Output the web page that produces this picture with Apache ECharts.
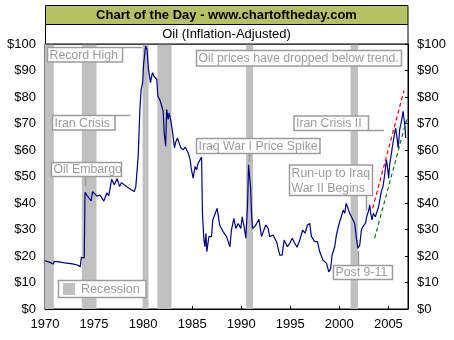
<!DOCTYPE html>
<html>
<head>
<meta charset="utf-8">
<script src="https://cdn.jsdelivr.net/npm/echarts@6/dist/echarts.min.js"></script>
<style>
html,body{margin:0;padding:0;background:#fff;}
#chart{width:454px;height:340px;}
</style>
</head>
<body>
<div id="chart"></div>
<script>
// ---- data ----
var years = [
  1970.0,1970.5,1970.85,1970.95,1971.3,1972.0,1972.8,1973.3,1973.6,1973.7,1973.85,1974.0,
  1974.08,1974.3,1974.5,1974.7,1974.85,1975.3,1975.6,1976.0,1976.3,1976.5,1976.8,1977.05,
  1977.36,1977.6,1977.8,1978.3,1978.8,1979.1,1979.25,1979.35,1979.5,1979.67,1979.8,1979.95,
  1980.05,1980.25,1980.4,1980.55,1980.75,1980.95,1981.1,1981.4,1981.5,1981.7,1981.9,1982.05,
  1982.15,1982.3,1982.4,1982.55,1982.65,1982.8,1982.97,1983.2,1983.3,1983.5,1983.7,1983.85,
  1984.1,1984.3,1984.6,1984.8,1984.9,1985.1,1985.3,1985.45,1985.6,1985.8,1985.96,1986.05,
  1986.2,1986.3,1986.4,1986.5,1986.7,1986.97,1987.1,1987.3,1987.55,1987.8,1988.15,1988.5,
  1988.85,1989.0,1989.25,1989.45,1989.7,1989.96,1990.1,1990.3,1990.47,1990.65,1990.75,1990.82,
  1990.95,1991.05,1991.15,1991.4,1991.55,1991.8,1992.07,1992.2,1992.5,1992.74,1992.9,1993.25,
  1993.6,1993.93,1994.17,1994.37,1994.54,1994.7,1994.95,1995.2,1995.46,1995.7,1995.97,1996.25,
  1996.5,1996.75,1996.98,1997.16,1997.5,1997.77,1998.0,1998.34,1998.7,1998.92,1999.12,1999.26,
  1999.53,1999.7,1999.94,2000.2,2000.4,2000.55,2000.7,2000.9,2001.06,2001.23,2001.4,2001.57,
  2001.74,2001.9,2002.08,2002.25,2002.4,2002.66,2002.83,2002.96,2003.1,2003.2,2003.33,2003.47,
  2003.67,2003.84,2004.0,2004.18,2004.28,2004.45,2004.6,2004.8,2004.9,2005.03,2005.13,2005.3,
  2005.47,2005.64,2005.74,2005.88,2006.0,2006.15,2006.3,2006.5,2006.6,2006.7,2006.76
];
var prices = [
  18.2,17.6,17.0,18.0,17.9,17.4,17.0,16.6,16.0,19.5,19.2,19.3,
  44.0,42.8,42.4,40.8,44.3,42.6,43.0,40.7,43.8,42.8,49.0,46.9,
  49.2,46.2,47.7,46.2,45.0,44.3,46.0,46.2,57.6,75.3,82.8,85.4,
  92.3,99.2,98.0,90.4,85.4,89.2,87.9,86.6,80.3,79.0,76.5,74.6,
  66.4,61.4,75.3,71.5,74.0,71.5,67.7,60.8,62.7,64.5,65.2,60.8,
  60.1,61.1,58.9,56.3,53.2,49.4,53.8,52.5,55.0,54.4,57.3,36.0,
  26.0,23.5,28.5,21.6,27.3,27.3,33.6,33.0,38.0,31.7,29.2,27.3,
  23.5,29.8,34.2,30.4,32.3,30.4,34.8,31.1,26.7,39.9,54.4,53.8,
  46.2,36.1,30.4,31.1,30.4,33.9,27.3,27.9,31.7,30.4,27.3,27.9,
  25.4,20.3,20.3,26.0,26.7,23.5,24.8,26.7,24.8,23.3,26.0,29.8,
  28.6,31.7,32.3,27.3,25.4,25.4,21.6,18.4,17.2,14.0,15.3,20.3,
  23.5,27.9,31.7,34.8,37.4,36.1,39.9,40.2,36.1,34.8,33.6,32.3,
  26.7,22.9,24.1,29.8,31.1,32.3,35.5,36.7,39.3,36.1,33.6,36.1,
  34.8,36.7,38.6,39.3,44.3,46.2,50.0,56.3,53.8,49.4,54.4,53.8,
  62.7,66.4,68.3,64.5,60.8,67.7,70.2,74.6,71.5,68.9,64.5
];
var recessions = [[1970.0,1970.9],[1973.75,1975.25],[1979.95,1980.55],[1981.45,1982.9],[1990.5,1991.2],[2001.15,2001.9]];
var trendRed = [[2003.4,38.0],[2006.6,82.5]];
var trendGreen = [[2003.6,26.7],[2006.9,72.0]];
var yTicks = [0,10,20,30,40,50,60,70,80,90,100];
var xTicks = [1970,1975,1980,1985,1990,1995,2000,2005];

var titleText = 'Chart of the Day - www.chartoftheday.com';
var subtitleText = 'Oil (Inflation-Adjusted)';
var legendText = 'Recession';

// ---- chart ----
var FONT = '"Liberation Sans", Arial, sans-serif';
var GRAY = '#9c9c9c';
var ANN_FONT = '12.3px ' + FONT;
var chart = echarts.init(document.getElementById('chart'), null, {renderer:'canvas'});

var oilData = years.map(function(y,i){ return [y, prices[i]]; });
var areaData = recessions.map(function(r){ return [{xAxis:r[0]},{xAxis:r[1]}]; });

function yAxisCfg(pos){
  return {
    type:'value', position:pos, min:yTicks[0], max:yTicks[yTicks.length-1], interval:10,
    axisLine:{show:true, lineStyle:{color:'#000', width:1}},
    axisTick:{show:true, inside:true, length:3, lineStyle:{color:'#000'}},
    splitLine:{show:false},
    axisLabel:{color:'#000', fontFamily:FONT, fontSize:13, margin:9,
      formatter:function(v){ return '$' + v; }}
  };
}

var ann = [
  // [left, top, width, height, lines, leader [x1,y1,x2,y2] or null]
  [47.5, 47.5, 75, 14.5, ['Record High'], [122.5,47.5,142,47.5]],
  [52.5, 115.5, 62.5, 14.5, ['Iran Crisis'], [115,115.5,130.5,115.5]],
  [51.5, 162.5, 70, 14, ['Oil Embargo'], [85.5,176.5,85.5,186]],
  [196.5, 50.5, 205, 15.5, ['Oil prices have dropped below trend.'], null],
  [196.5, 138.5, 123.5, 15, ['Iraq War I Price Spike'], [249.5,153.5,249.5,162]],
  [294, 116, 74.5, 14.5, ['Iran Crisis II'], [368.5,130.5,384,130.5]],
  [289.5, 165, 83, 30.5, ['Run-up to Iraq','War II Begins'], [366.5,195.5,366.5,210.5]],
  [333.5, 265.5, 59, 14, ['Post 9-11'], [358.5,251,358.5,265.5]]
];

var graphics = [
  {type:'rect', z:100, shape:{x:45.5, y:5.5, width:362.5, height:19}, style:{fill:'#b5c162', stroke:'#000', lineWidth:1}},
  {type:'text', z:101, x:226.5, y:15, style:{text:titleText, font:'bold 13px '+FONT, fill:'#000', align:'center', verticalAlign:'middle'}},
  {type:'rect', z:100, shape:{x:45.5, y:24.5, width:362.5, height:19.5}, style:{fill:'#fff', stroke:'#000', lineWidth:1}},
  {type:'text', z:101, x:226.5, y:34.5, style:{text:subtitleText, font:'13px '+FONT, fill:'#000', align:'center', verticalAlign:'middle'}}
];
ann.forEach(function(a){
  graphics.push({type:'rect', z:100, shape:{x:a[0], y:a[1], width:a[2], height:a[3]}, style:{fill:'#fff', stroke:GRAY, lineWidth:1.5}});
  var lh = 15;
  a[4].forEach(function(t, k){
    graphics.push({type:'text', z:101, x:a[0]+2, y:a[1]+ (a[4].length>1 ? 8 + k*lh : a[3]/2) + 0.5,
      style:{text:t, font:ANN_FONT, fill:GRAY, align:'left', verticalAlign:'middle'}});
  });
  if (a[5]) graphics.push({type:'line', z:100, shape:{x1:a[5][0], y1:a[5][1], x2:a[5][2], y2:a[5][3]}, style:{stroke:GRAY, lineWidth:1.5}});
});
// legend
graphics.push({type:'rect', z:100, shape:{x:58.5, y:280.5, width:87.5, height:17}, style:{fill:'#fff', stroke:GRAY, lineWidth:1.5}});
graphics.push({type:'rect', z:101, shape:{x:63, y:283, width:12, height:12}, style:{fill:'#c0c0c0'}});
graphics.push({type:'text', z:101, x:81, y:289.5, style:{text:legendText, font:'12.6px '+FONT, fill:GRAY, align:'left', verticalAlign:'middle'}});

var option = {
  backgroundColor:'#fff',
  animation:false,
  grid:{left:45, right:46, top:44, bottom:31, show:true, borderColor:'#000', borderWidth:1, backgroundColor:'#fff'},
  xAxis:{
    type:'value', min:xTicks[0], max:2007, interval:5,
    axisLine:{show:true, lineStyle:{color:'#000'}},
    axisTick:{show:true, inside:true, length:3, lineStyle:{color:'#000'}},
    splitLine:{show:false},
    axisLabel:{color:'#000', fontFamily:FONT, fontSize:13, margin:9,
      formatter:function(v){ return xTicks.indexOf(v) >= 0 ? String(v) : ''; }}
  },
  yAxis:[yAxisCfg('left'), yAxisCfg('right')],
  series:[
    {type:'line', name:'Oil', data:oilData, showSymbol:false, symbol:'none', z:5,
      lineStyle:{color:'#000080', width:1.2},
      markArea:{silent:true, itemStyle:{color:'#c0c0c0', opacity:1}, data:areaData, z:1}
    },
    {type:'line', name:'Trend high', data:trendRed, showSymbol:false, symbol:'none', z:6,
      lineStyle:{color:'#ff0000', width:1.2, type:[4,3]}},
    {type:'line', name:'Trend low', data:trendGreen, showSymbol:false, symbol:'none', z:6,
      lineStyle:{color:'#008000', width:1.2, type:[4,3]}}
  ],
  graphic:graphics
};
chart.setOption(option);
</script>
</body>
</html>
